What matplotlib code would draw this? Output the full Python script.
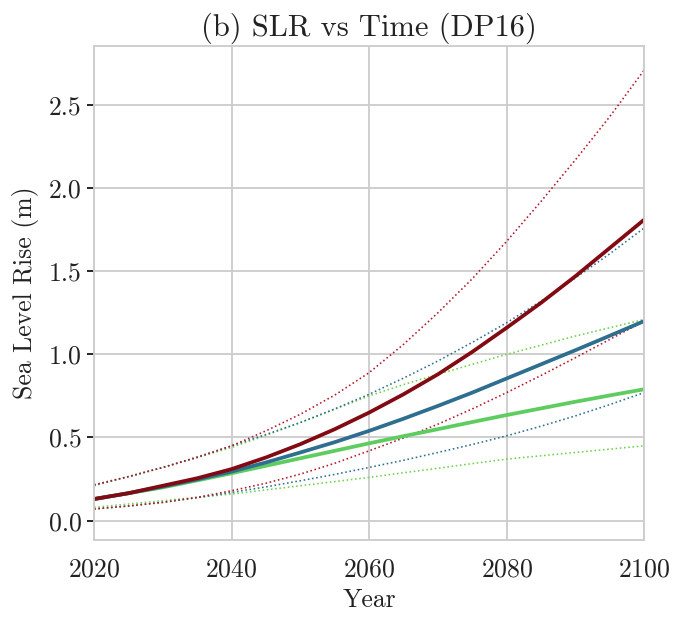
import numpy as np
import matplotlib
matplotlib.use("Agg")
import matplotlib.pyplot as plt

# --- DATA (every 5 years) ---
years = [2020, 2025, 2030, 2035, 2040, 2045, 2050, 2055, 2060,
         2065, 2070, 2075, 2080, 2085, 2090, 2095, 2100]

red_mid = [0.13, 0.165, 0.21, 0.255, 0.31, 0.38, 0.46, 0.55, 0.65,
           0.76, 0.88, 1.015, 1.16, 1.31, 1.47, 1.64, 1.81]
red_hi = [0.215, 0.265, 0.32, 0.38, 0.45, 0.54, 0.64, 0.755, 0.89,
          1.06, 1.25, 1.455, 1.68, 1.92, 2.17, 2.43, 2.71]
red_lo = [0.07, 0.088, 0.11, 0.14, 0.18, 0.225, 0.28, 0.345, 0.42,
          0.497, 0.58, 0.672, 0.77, 0.873, 0.98, 1.09, 1.20]

blue_mid = [0.13, 0.165, 0.205, 0.248, 0.295, 0.35, 0.41, 0.472, 0.54,
            0.613, 0.69, 0.77, 0.855, 0.94, 1.025, 1.112, 1.20]
blue_hi = [0.215, 0.265, 0.32, 0.383, 0.45, 0.518, 0.59, 0.672, 0.76,
           0.857, 0.96, 1.072, 1.19, 1.32, 1.46, 1.605, 1.76]
blue_lo = [0.07, 0.088, 0.11, 0.138, 0.17, 0.203, 0.24, 0.278, 0.32,
           0.363, 0.41, 0.458, 0.51, 0.568, 0.63, 0.698, 0.77]

green_mid = [0.13, 0.165, 0.20, 0.242, 0.285, 0.33, 0.375, 0.42, 0.465,
             0.508, 0.55, 0.593, 0.635, 0.675, 0.715, 0.753, 0.79]
green_hi = [0.21, 0.263, 0.32, 0.38, 0.44, 0.513, 0.59, 0.67, 0.75,
            0.818, 0.88, 0.94, 1.00, 1.055, 1.11, 1.16, 1.21]
green_lo = [0.08, 0.10, 0.12, 0.14, 0.16, 0.185, 0.21, 0.235, 0.26,
            0.288, 0.315, 0.343, 0.37, 0.39, 0.41, 0.43, 0.45]

ytick_vals = [0.0, 0.5, 1.0, 1.5, 2.0, 2.5]
ytick_labels = ['0.0', '0.5', '1.0', '1.5', '2.0', '2.5']
xtick_vals = [2020, 2040, 2060, 2080, 2100]

# --- STYLE ---
plt.rcParams['font.family'] = 'serif'
plt.rcParams['font.serif'] = ['cmr10', 'DejaVu Serif']
plt.rcParams['axes.formatter.use_mathtext'] = True
plt.rcParams['mathtext.fontset'] = 'cm'

fig = plt.figure(figsize=(6.92, 6.19), dpi=100)
ax = fig.add_axes([0.136, 0.128, 0.795, 0.798])

c_red = '#820a12'
c_red_dot = '#b3182a'
c_blue = '#2e6e8e'
c_green = '#5ccd5e'
c_green_dot = '#6fd24c'

# dotted ranges first, solid medians on top
dot_lw = 1.15
ax.plot(years, green_hi, ':', color=c_green_dot, lw=dot_lw)
ax.plot(years, green_lo, ':', color=c_green_dot, lw=dot_lw)
ax.plot(years, blue_hi, ':', color=c_blue, lw=dot_lw)
ax.plot(years, blue_lo, ':', color=c_blue, lw=dot_lw)
ax.plot(years, red_hi, ':', color=c_red_dot, lw=dot_lw)
ax.plot(years, red_lo, ':', color=c_red_dot, lw=dot_lw)

ax.plot(years, green_mid, '-', color=c_green, lw=2.7)
ax.plot(years, blue_mid, '-', color=c_blue, lw=2.7)
ax.plot(years, red_mid, '-', color=c_red, lw=2.7)

ax.set_xlim(2020, 2100)
ax.set_ylim(-0.115, 2.855)
ax.set_xticks(xtick_vals)
ax.set_yticks(ytick_vals)
ax.set_yticklabels(ytick_labels)

ax.grid(True, color='#cccccc', lw=1.3)
ax.set_axisbelow(True)
for s in ax.spines.values():
    s.set_color('#cccccc')
    s.set_linewidth(1.3)

ax.tick_params(axis='x', length=0, pad=13, labelsize=18.5, labelcolor='#222222')
ax.tick_params(axis='y', length=5, width=1.2, color='black', pad=4, labelsize=18.5,
               labelcolor='#222222')

ax.set_title('(b) SLR vs Time (DP16)', fontsize=22, pad=7, color='#222222')
ax.set_xlabel('Year', fontsize=18.5, labelpad=5, color='#222222')
ax.set_ylabel('Sea Level Rise (m)', fontsize=18.5, labelpad=7, color='#222222')

fig.savefig('out.png', dpi=100)
